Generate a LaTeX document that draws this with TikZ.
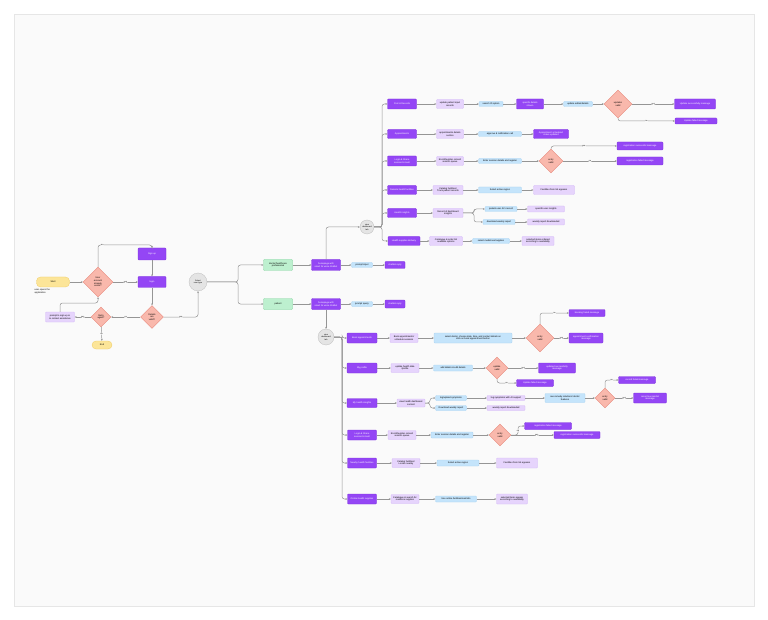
\documentclass[tikz,border=0pt]{standalone}
\usepackage{fontspec}
\setmainfont{Liberation Sans}
\usetikzlibrary{shapes.geometric,arrows.meta}
\definecolor{purp}{HTML}{9446F5}
\definecolor{purpd}{HTML}{7B2FDB}
\definecolor{lpurp}{HTML}{E6D4FC}
\definecolor{lpurpd}{HTML}{D3B8F7}
\definecolor{lblue}{HTML}{C4E4FB}
\definecolor{lblued}{HTML}{A9D3F2}
\definecolor{salm}{HTML}{F9B8AC}
\definecolor{salmd}{HTML}{E8877A}
\definecolor{grn}{HTML}{BDF0CF}
\definecolor{grnd}{HTML}{7ED39B}
\definecolor{yel}{HTML}{FCE598}
\definecolor{yeld}{HTML}{EFCB62}
\definecolor{circf}{HTML}{E4E4E4}
\definecolor{circd}{HTML}{BDBDBD}
\definecolor{lc}{HTML}{959595}
\definecolor{bgc}{HTML}{FAFAFA}
\definecolor{bord}{HTML}{E6E6E6}
\begin{document}
\begin{tikzpicture}[x=1pt,y=-1pt,
 every node/.style={font=\fontsize{2.3}{2.8}\selectfont, inner sep=0.5pt, align=center},
 box/.style={rectangle, rounded corners=0.8pt, line width=0.3pt},
 pbox/.style 2 args={box, fill=purp, draw=purpd, text=white, minimum width=#1pt, minimum height=#2pt},
 lpbox/.style 2 args={box, fill=lpurp, draw=lpurpd, text=black, minimum width=#1pt, minimum height=#2pt},
 lbbox/.style 2 args={box, fill=lblue, draw=lblued, text=black, minimum width=#1pt, minimum height=#2pt},
 gbox/.style 2 args={box, fill=grn, draw=grnd, text=black, minimum width=#1pt, minimum height=#2pt},
 term/.style 2 args={rectangle, rounded corners=4pt, fill=yel, draw=yeld, line width=0.3pt, minimum width=#1pt, minimum height=#2pt},
 dia/.style={diamond, aspect=1, fill=salm, draw=salmd, line width=0.3pt, inner sep=0pt, minimum width=#1pt, minimum height=#1pt},
 circ/.style={circle, fill=circf, draw=circd, line width=0.3pt, inner sep=0pt, minimum size=#1pt, font=\fontsize{2}{2.4}\selectfont},
 arr/.style={draw=lc, line width=0.5pt, -{Stealth[length=2pt,width=1.8pt]}, rounded corners=2.5pt},
 lbl/.style={fill=bgc, inner sep=0.3pt, font=\fontsize{2}{2.4}\selectfont, text=black}
]
\useasboundingbox (0,0) rectangle (768,620);
\fill[white] (0,0) rectangle (768,620);
\draw[fill=bgc, draw=bord, line width=0.5pt] (14,14) rectangle (754,606);

% ---------- left part ----------
\node[term={33}{10}] (start) at (53,282) {Start};
\node[anchor=north west, align=left] (note) at (34,288) {user opens the\\application};
\node[dia=30] (d1) at (98,282) {User\\account\\already\\exists?};
\node[pbox={28}{12}] (signup) at (152,254) {Sign up};
\node[pbox={28}{11}] (login) at (152,282) {login};
\node[dia=23] (d2) at (152,317) {Details\\are\\valid?};
\node[dia=20] (d3) at (101,317) {Retry\\again?};
\node[lpbox={29}{10}] (prompt) at (60,317) {prompt to sign up or\\to contact assistance};
\node[term={20}{8}] (end) at (102,345) {End};
\node[circ=18] (usr) at (198,282) {Select\\user type};

\draw[arr] (start) -- (d1);
\draw[arr] (d1.north) -- (98,245) -- node[lbl,pos=0.08]{no} (152,245) -- (signup.north);
\draw[arr] (signup) -- (login);
\draw[arr] (d1) -- node[lbl]{yes} (login);
\draw[arr] (login) -- (d2);
\draw[arr] (d2) -- node[lbl]{no} (d3);
\draw[arr] (d3) -- node[lbl]{yes} (prompt);
\draw[arr] (d3) -- node[lbl]{no} (end);
\draw[arr] (prompt.north) -- (60,303) -- (98,303) -- (d1.south);
\draw[arr] (d2.east) -- node[lbl]{yes} (198,317) -- (usr.south);

% ---------- middle ----------
\node[gbox={29}{11}] (g1) at (278,265) {doctor/healthcare\\professional};
\node[gbox={29}{11}] (g2) at (278,304) {patient};
\node[pbox={29}{11}] (h1) at (326,265) {homepage with\\smart AI voice chatbot};
\node[pbox={29}{11}] (h2) at (326,304) {homepage with\\smart AI voice chatbot};
\node[lbbox={21}{5}] (pi1) at (362,265) {prompt input};
\node[lbbox={21}{5}] (pq2) at (362,304) {prompt query};
\node[pbox={20}{7}] (cr1) at (395,265) {chatbot reply};
\node[pbox={20}{8}] (cr2) at (395,304) {chatbot reply};
\node[circ=14] (dash1) at (367,227) {view\\dashboard\\tab};
\node[circ=16] (dash2) at (326,337) {view\\dashboard\\tab};

\draw[arr] (usr.east) -- (238,282) |- (g1.west);
\draw[arr] (usr.east) -- (238,282) |- (g2.west);
\foreach \a/\b in {g1/h1,h1/pi1,pi1/cr1,g2/h2,h2/pq2,pq2/cr2}
  \draw[arr] (\a) -- (\b);
\draw[arr] (h1.north) |- (dash1.west);
\draw[arr] (h2) -- (dash2);

% ---------- top tree (doctor) ----------
\node[pbox={29}{10}] (t1) at (402,104) {Post \& Records};
\node[lpbox={27}{9}] (tl1) at (450,104) {update patient input\\records};
\node[lbbox={24}{5}] (tb1) at (491,104) {search ID option};
\node[pbox={27}{10}] (tp1) at (530,104) {specific details\\shown};
\node[lbbox={29}{5}] (tb1b) at (578,104) {update edited details};
\node[dia=28] (dt1) at (618,104) {updates\\valid};
\node[pbox={41}{10}] (tyes1) at (695,104) {Update successfully message};
\node[pbox={42}{6}] (tno1) at (696,121) {Update failed message};

\node[pbox={29}{9}] (t2) at (402,134) {Appointments};
\node[lpbox={27}{9}] (tl2) at (450,134) {appointments details\\section};
\node[lbbox={43}{5}] (tb2) at (500,134) {approve \& notification call};
\node[pbox={35}{9}] (tp2) at (551,134) {Appointment scheduled\\status updated};

\node[pbox={29}{10}] (t3) at (402,161) {Login \& Share\\session/consult};
\node[lpbox={27}{9}] (tl3) at (450,161) {Enroll/register consult\\session queue};
\node[lbbox={43}{5}] (tb3) at (500,161) {Enter session details and register};
\node[dia=24] (dt3) at (551,161) {entry\\valid};
\node[pbox={46}{8}] (tyes3) at (640,146) {registration successful message};
\node[pbox={46}{8}] (tno3) at (640,161) {registration failed message};

\node[pbox={29}{9}] (t4) at (402,190) {Remote health facilities};
\node[lpbox={30}{9}] (tl4) at (448,190) {Catalog facilities/\\Track patient records};
\node[lbbox={43}{6}] (tb4) at (500,190) {Select active region};
\node[lpbox={41}{9}] (tl4b) at (554,190) {Facilities from list appears};

\node[pbox={29}{9}] (t5) at (402,213) {Health insights};
\node[lpbox={30}{9}] (tl5) at (448,213) {Record of dashboard\\insights};
\node[lbbox={32}{5}] (tb5a) at (501,209) {patient user AI's record};
\node[lpbox={37}{6}] (tl5a) at (546,209) {specific user insights};
\node[lbbox={32}{5}] (tb5b) at (499,222) {download weekly report};
\node[lpbox={37}{6}] (tl5b) at (546,222) {weekly report downloaded};

\node[pbox={32}{9}] (t6) at (404,241) {Health supplies delivery};
\node[lpbox={33}{9}] (tl6) at (446,241) {Catalogue \& order list\\available options};
\node[lbbox={37}{5}] (tb6) at (491,241) {select medicines/supplies};
\node[lpbox={32}{9}] (tl6b) at (538,241) {selected items ordered\\according to availability};

\foreach \n in {t1,t2,t3,t4,t5,t6}
  \draw[arr] (dash1.east) -- (382,227) |- (\n.west);
\foreach \a/\b in {t1/tl1,tl1/tb1,tb1/tp1,tp1/tb1b,tb1b/dt1,t2/tl2,tl2/tb2,tb2/tp2,t3/tl3,tl3/tb3,tb3/dt3,t4/tl4,tl4/tb4,tb4/tl4b,t5/tl5,tb5a/tl5a,tb5b/tl5b,t6/tl6,tl6/tb6,tb6/tl6b}
  \draw[arr] (\a) -- (\b);
\draw[arr] (dt1) -- node[lbl]{yes} (tyes1);
\draw[arr] (dt1.south) |- node[lbl,pos=0.75]{no} (tno1.west);
\draw[arr] (dt3.north) |- node[lbl,pos=0.75]{yes} (tyes3.west);
\draw[arr] (dt3) -- node[lbl]{no} (tno3);
\draw[arr] (tl5.east) -- (474,213) |- (tb5a.west);
\draw[arr] (tl5.east) -- (474,213) |- (tb5b.west);

% ---------- bottom tree (patient) ----------
\node[pbox={30}{10}] (b1) at (362,338) {Book appointments};
\node[lpbox={28}{9}] (bl1) at (404,338) {Book appointments/\\schedule sessions};
\node[lbbox={78}{10}] (bb1) at (473,338) {select doctor, choose date, time, and contact details on\\click on book appointment button};
\node[dia=28] (db1) at (540,338) {entry\\valid};
\node[pbox={36}{7}] (bno1) at (587,313) {booking failed message};
\node[pbox={34}{10}] (byes1) at (586,338) {appointment confirmation\\message};

\node[pbox={30}{10}] (b2) at (362,368) {My profile};
\node[lpbox={28}{9}] (bl2) at (405,368) {update health data\\/profile};
\node[lbbox={39}{6}] (bb2) at (453,368) {add details \& edit details};
\node[dia=22] (db2) at (497,368) {update\\valid};
\node[pbox={37}{10}] (byes2) at (557,368) {updated successfully\\message};
\node[pbox={37}{7}] (bno2) at (535,383) {Update failed message};

\node[pbox={30}{9}] (b3) at (362,403) {My health insights};
\node[lpbox={28}{8}] (bl3) at (411,403) {view health dashboard\\content};
\node[lbbox={31}{5}] (bb3a) at (451,398) {log/upload symptoms};
\node[lbbox={31}{5}] (bb3b) at (451,408) {Download weekly report};
\node[lpbox={38}{5}] (bl3a) at (506,398) {log symptoms with AI support};
\node[lpbox={38}{5}] (bl3b) at (506,408) {weekly report downloaded};
\node[lbbox={40}{9}] (bb3c) at (565,398) {see remedy solutions/ doctor\\features};
\node[dia=20] (db3) at (605,398) {entry\\valid};
\node[pbox={37}{7}] (bno3) at (637,380) {record failed message};
\node[pbox={33}{10}] (byes3) at (650,398) {record successful\\message};

\node[pbox={29}{10}] (b4) at (362,435) {Login \& Share\\session/consult};
\node[lpbox={28}{9}] (bl4) at (402,435) {Enroll/register consult\\session queue};
\node[lbbox={42}{6}] (bb4) at (452,435) {Enter session details and register};
\node[dia=22] (db4) at (500,435) {entry\\valid};
\node[pbox={47}{7}] (bno4) at (548,426) {registration failed message};
\node[pbox={46}{7}] (byes4) at (577,435) {registration successful message};

\node[pbox={29}{10}] (b5) at (362,463) {Nearby health facilities};
\node[lpbox={28}{9}] (bl5) at (406,463) {Catalog facilities/\\Locate nearby};
\node[lbbox={42}{6}] (bb5) at (458,463) {Select active region};
\node[lpbox={41}{10}] (bl5b) at (517,463) {Facilities from list appears};

\node[pbox={29}{10}] (b6) at (362,499) {Online health supplies};
\node[lpbox={28}{9}] (bl6) at (405,499) {Catalogue \& search for\\medicine supplies};
\node[lbbox={41}{6}] (bb6) at (456,499) {Use online facilities/med kits};
\node[lpbox={31}{10}] (bl6b) at (512,499) {selected items appear\\according to availability};

\foreach \n in {b1,b2,b3,b4,b5,b6}
  \draw[arr] (dash2.east) -- (342,337) |- (\n.west);
\foreach \a/\b in {b1/bl1,bl1/bb1,bb1/db1,b2/bl2,bl2/bb2,bb2/db2,b3/bl3,bb3a/bl3a,bl3a/bb3c,bb3c/db3,bb3b/bl3b,b4/bl4,bl4/bb4,bb4/db4,b5/bl5,bl5/bb5,bb5/bl5b,b6/bl6,bl6/bb6,bb6/bl6b}
  \draw[arr] (\a) -- (\b);
\draw[arr] (bl3.east) -- (430,403) |- (bb3a.west);
\draw[arr] (bl3.east) -- (430,403) |- (bb3b.west);
\draw[arr] (db1.north) |- node[lbl,pos=0.75]{no} (bno1.west);
\draw[arr] (db1) -- node[lbl]{yes} (byes1);
\draw[arr] (db2) -- node[lbl]{yes} (byes2);
\draw[arr] (db2.south) |- node[lbl,pos=0.75]{no} (bno2.west);
\draw[arr] (db3.north) |- node[lbl,pos=0.75]{no} (bno3.west);
\draw[arr] (db3) -- node[lbl]{yes} (byes3);
\draw[arr] (db4.east) -- (518,435) -- node[lbl]{no} (518,426) -- (bno4.west);
\draw[arr] (db4) -- node[lbl,pos=0.6]{yes} (byes4);
\end{tikzpicture}
\end{document}
